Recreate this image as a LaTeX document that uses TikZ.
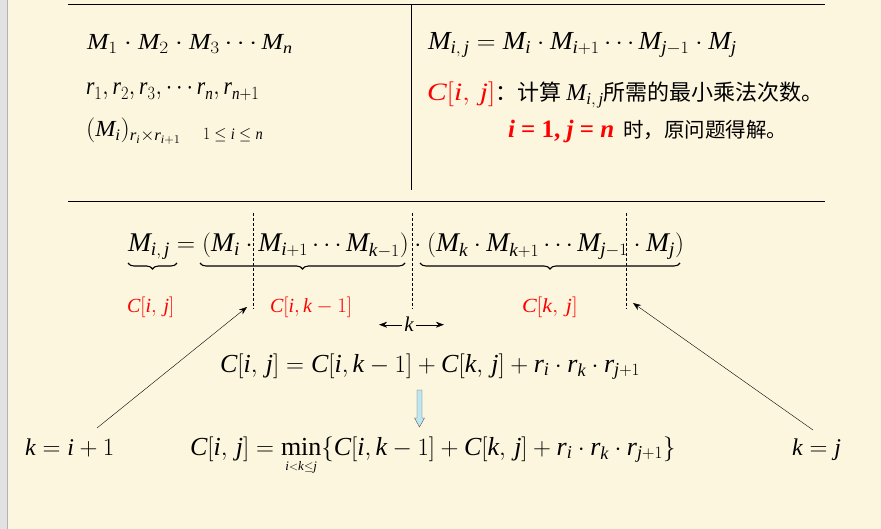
\documentclass[tikz,border=0pt]{standalone}
\usepackage{graphicx}
\usepackage{amsmath}
\usepackage{amssymb}
\usepackage{fontspec}
\setmainfont{Liberation Serif}
\newfontfamily\cjk{Noto Sans CJK SC}
\edef\tmpdecl{\noexpand\DeclareSymbolFont{tletters}{TU}{\rmdefault}{m}{it}}\tmpdecl
\newcount\ltrcnt
\ltrcnt=`A
\loop\mathcode\ltrcnt=\numexpr"7000+\symtletters*"100+\ltrcnt\relax\ifnum\ltrcnt<`Z\advance\ltrcnt 1\repeat
\ltrcnt=`a
\loop\mathcode\ltrcnt=\numexpr"7000+\symtletters*"100+\ltrcnt\relax\ifnum\ltrcnt<`z\advance\ltrcnt 1\repeat
\usetikzlibrary{arrows.meta,decorations.pathreplacing}
\definecolor{paper}{RGB}{253,246,222}
\definecolor{margingray}{RGB}{226,226,226}
\definecolor{hollowfill}{RGB}{190,230,240}
\tikzset{
	txt/.style={anchor=base west,inner sep=0pt,outer sep=0pt},
	lbl/.style={txt,text=red,font=\fontsize{20}{22}\selectfont},
	ptr/.style={-{Stealth[length=8pt,width=6pt]},thin},
	cutline/.style={thin,dash pattern=on 3pt off 2pt},
	ubrace/.style={decorate,decoration={brace,mirror,amplitude=6pt},line width=1.1pt},
	hollow/.style={fill=hollowfill,draw=gray!70!black,thin}
}
\begin{document}
\begin{tikzpicture}[x=1pt,y=-1pt]
		\useasboundingbox (0,0) rectangle (881,529);
		\fill[paper] (0,0) rectangle (881,529);
		\fill[margingray] (0,0) rectangle (7,529);
		\draw[gray!60] (7,0) -- (7,529);
		
		\draw (68,4) -- (825,4);
		\draw (68,201) -- (825,201);
		\draw (411,4) -- (411,190);
		
		\node[txt,font=\fontsize{23}{26}\selectfont] (chain) at (87,50) {\scalebox{1.12}[1]{$M_1\cdot M_2\cdot M_3\cdots M_n$}};
		\node[txt,font=\fontsize{23}{26}\selectfont] (dims) at (86,95) {\scalebox{0.94}[1.08]{$r_1,r_2,r_3,\cdots r_n,r_{n+1}$}};
		\node[txt,font=\fontsize{23}{26}\selectfont] (mat) at (86,137) {\scalebox{1.05}[1]{$(M_i)_{r_i\times r_{i+1}}$}};
		\node[txt,font=\fontsize{16}{18}\selectfont] (range) at (203,140) {\scalebox{0.9}[1]{$1\leq i\leq n$}};
		
		\node[txt,font=\fontsize{26}{30}\selectfont] (mij) at (428,50) {\scalebox{1.045}[1]{$M_{i,\,j}=M_i\cdot M_{i+1}\cdots M_{j-1}\cdot M_j$}};
		\node[txt,text=red,font=\fontsize{25}{28}\selectfont] (cij) at (427,101) {\scalebox{1.18}[1]{$C[i,\,j]$}};
		\node[txt,font=\fontsize{22}{24}\selectfont] (cdef) at (cij.base east) {\cjk ：计算 {\fontsize{24}{26}\selectfont$M_{i,\,j}$}所需的最小乘法次数。};
		\node[txt,text=red,font=\fontsize{25}{28}\selectfont\bfseries] (ij) at (508,138) {\textit{i} = 1, \textit{j} = \textit{n}};
		\node[txt,font=\fontsize{20.5}{24}\selectfont] (sol) at ([xshift=9pt]ij.base east) {\cjk 时，原问题得解。};
		
		\node[txt,font=\fontsize{27}{30}\selectfont] (split) at (128,252) {\scalebox{1.02}[1]{$M_{i,\,j}=(M_i\cdot M_{i+1}\cdots M_{k-1})\cdot(M_k\cdot M_{k+1}\cdots M_{j-1}\cdot M_j)$}};
		\draw[ubrace] (128,263) -- (177,263);
		\draw[ubrace] (200,263) -- (405,263);
		\draw[ubrace] (420,263) -- (680,263);
		\foreach \x in {253,412,626}
		{
			\draw[cutline] (\x,213) -- (\x,309);
		}
		\node[lbl] (cost) at (127,313) {$C[i,\,j]$};
		\node[lbl] (costL) at (270,313) {$C[i,k-1]$};
		\node[lbl] (costR) at (522,313) {\scalebox{1.1}[1]{$C[k,\,j]$}};
		
		\node[anchor=base,inner sep=0pt,font=\fontsize{21}{24}\selectfont] (kmid) at (409,332) {$k$};
		\coordinate (kL) at ([xshift=-25pt]kmid.west);
		\coordinate (kR) at ([xshift=30pt]kmid.east);
		\draw[ptr] ([xshift=-2pt]kmid.west) -- (kL);
		\draw[ptr] ([xshift=2pt]kmid.east) -- (kR);
		
		\node[txt,font=\fontsize{26}{30}\selectfont] (rec) at (220,372) {$C[i,\,j]=C[i,k-1]+C[k,\,j]+r_i\cdot r_k\cdot r_{j+1}$};
		\filldraw[hollow] (417,390) -- (422,390) -- (422,418) -- (424.5,418) -- (419.5,427) -- (414.5,418) -- (417,418) -- cycle;
		\node[txt,font=\fontsize{26}{30}\selectfont] (opt) at (190,455) {$C[i,\,j]=\min\limits_{\scriptscriptstyle i<k\leq j}\{C[i,k-1]+C[k,\,j]+r_i\cdot r_k\cdot r_{j+1}\}$};
		
		\node[txt,font=\fontsize{24}{28}\selectfont] (kfirst) at (25,455) {$k=i+1$};
		\node[txt,font=\fontsize{24}{28}\selectfont] (klast) at (792,455) {$k=j$};
		\coordinate (cutL) at (247,307);
		\coordinate (cutR) at (633,303);
		\coordinate (kfirsttop) at (97,428);
		\coordinate (klasttop) at (813,430);
		\draw[ptr] (kfirsttop) -- (cutL);
		\draw[ptr] (klasttop) -- (cutR);
\end{tikzpicture}
\end{document}
